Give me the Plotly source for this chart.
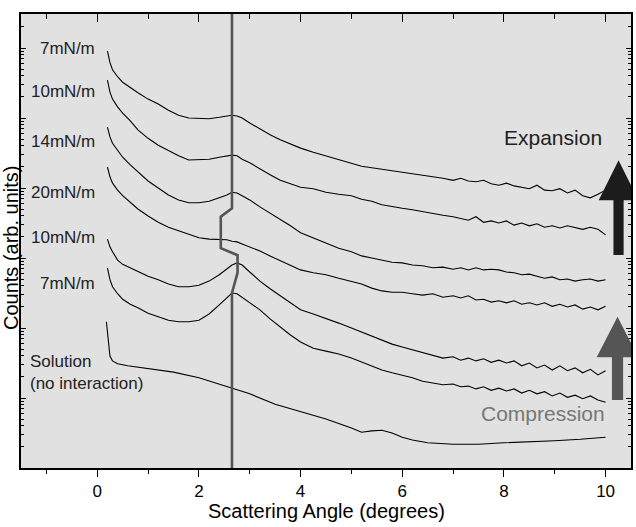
import numpy as np
import plotly.graph_objects as go

# Scattering angle grid (degrees) shared by the six monolayer curves
angle = [0.20, 0.25, 0.30, 0.40, 0.50, 0.65, 0.80, 1.00, 1.20, 1.40,
         1.60, 1.80, 2.00, 2.20, 2.40, 2.55, 2.65, 2.75, 2.85, 3.00,
         3.20, 3.40, 3.60, 3.80, 4.00, 4.25, 4.50, 4.75, 5.00, 5.20,
         5.40, 5.60, 5.80, 6.00, 6.20, 6.40, 6.60, 6.80, 7.00, 7.15,
         7.30, 7.45, 7.60, 7.75, 7.90, 8.05, 8.20, 8.35, 8.50, 8.65,
         8.80, 8.95, 9.10, 9.25, 9.40, 9.55, 9.70, 9.85, 10.00]

# log10(counts), offset curves (arb. units)
log_counts_7_expansion = [5.96, 5.79, 5.69, 5.59, 5.51, 5.43, 5.36, 5.27, 5.20, 5.11,
                          5.04, 5.00, 4.99, 4.99, 5.01, 5.03, 5.04, 5.03, 5.00, 4.93,
                          4.84, 4.76, 4.69, 4.63, 4.57, 4.51, 4.46, 4.40, 4.36, 4.31,
                          4.29, 4.27, 4.24, 4.23, 4.21, 4.19, 4.16, 4.14, 4.11, 4.14,
                          4.10, 4.09, 4.11, 4.06, 4.04, 4.07, 4.03, 4.01, 3.99, 4.04,
                          3.97, 3.96, 3.99, 3.93, 3.97, 3.89, 3.86, 3.91, 3.97]
log_counts_10_expansion = [5.54, 5.37, 5.27, 5.16, 5.07, 4.96, 4.83, 4.71, 4.61, 4.53,
                           4.46, 4.40, 4.40, 4.41, 4.44, 4.46, 4.47, 4.46, 4.41, 4.36,
                           4.27, 4.19, 4.11, 4.06, 4.01, 3.99, 3.94, 3.91, 3.89, 3.84,
                           3.81, 3.76, 3.73, 3.71, 3.69, 3.66, 3.63, 3.61, 3.59, 3.57,
                           3.54, 3.59, 3.51, 3.53, 3.50, 3.53, 3.47, 3.50, 3.46, 3.49,
                           3.44, 3.46, 3.43, 3.46, 3.43, 3.41, 3.44, 3.41, 3.33]
log_counts_14 = [4.87, 4.73, 4.64, 4.54, 4.44, 4.33, 4.23, 4.10, 4.00, 3.90,
                 3.83, 3.79, 3.79, 3.81, 3.86, 3.90, 3.94, 3.93, 3.89, 3.83,
                 3.73, 3.64, 3.56, 3.46, 3.36, 3.29, 3.21, 3.14, 3.09, 3.03,
                 3.00, 2.97, 2.94, 2.93, 2.90, 2.89, 2.86, 2.87, 2.84, 2.86,
                 2.83, 2.86, 2.83, 2.84, 2.83, 2.80, 2.79, 2.76, 2.77, 2.74,
                 2.71, 2.73, 2.69, 2.70, 2.67, 2.69, 2.70, 2.67, 2.69]
log_counts_20 = [4.30, 4.16, 4.07, 3.97, 3.89, 3.79, 3.70, 3.60, 3.51, 3.44,
                 3.39, 3.33, 3.29, 3.27, 3.26, 3.26, 3.24, 3.23, 3.20, 3.16,
                 3.10, 3.03, 2.96, 2.89, 2.83, 2.79, 2.76, 2.71, 2.67, 2.63,
                 2.57, 2.53, 2.51, 2.51, 2.49, 2.47, 2.49, 2.44, 2.46, 2.43,
                 2.46, 2.40, 2.41, 2.37, 2.39, 2.36, 2.39, 2.34, 2.36, 2.33,
                 2.36, 2.31, 2.34, 2.30, 2.33, 2.27, 2.30, 2.26, 2.31]
log_counts_10_compression = [3.27, 3.16, 3.09, 2.97, 2.91, 2.86, 2.80, 2.74, 2.69, 2.63,
                             2.59, 2.59, 2.61, 2.67, 2.76, 2.84, 2.90, 2.93, 2.90, 2.80,
                             2.67, 2.56, 2.46, 2.36, 2.26, 2.20, 2.14, 2.07, 2.00, 1.94,
                             1.89, 1.83, 1.77, 1.73, 1.69, 1.64, 1.60, 1.57, 1.59, 1.54,
                             1.57, 1.53, 1.56, 1.51, 1.54, 1.50, 1.53, 1.46, 1.50, 1.43,
                             1.47, 1.40, 1.46, 1.39, 1.43, 1.36, 1.41, 1.33, 1.39]
log_counts_7_compression = [2.86, 2.69, 2.59, 2.49, 2.41, 2.34, 2.29, 2.21, 2.16, 2.11,
                            2.09, 2.09, 2.11, 2.20, 2.33, 2.43, 2.50, 2.49, 2.44, 2.37,
                            2.26, 2.13, 2.01, 1.90, 1.80, 1.71, 1.67, 1.63, 1.57, 1.51,
                            1.46, 1.40, 1.36, 1.33, 1.29, 1.24, 1.21, 1.19, 1.20, 1.16,
                            1.17, 1.13, 1.16, 1.11, 1.14, 1.10, 1.13, 1.07, 1.11, 1.06,
                            1.09, 1.03, 1.07, 1.01, 1.04, 0.99, 1.03, 0.97, 0.94]

solution_angle = [0.18, 0.20, 0.22, 0.25, 0.30, 0.40, 0.60, 0.80, 1.00, 1.50,
                  2.00, 2.50, 3.00, 3.50, 4.00, 4.50, 5.00, 5.20, 5.40, 5.60,
                  5.80, 6.00, 6.20, 6.50, 7.00, 7.50, 8.00, 8.50, 9.00, 9.50, 10.00]
log_counts_solution = [2.09, 1.97, 1.83, 1.60, 1.53, 1.49, 1.46, 1.44, 1.43, 1.37,
                       1.29, 1.17, 1.06, 0.91, 0.80, 0.70, 0.57, 0.51, 0.53, 0.54,
                       0.50, 0.44, 0.40, 0.36, 0.34, 0.34, 0.36, 0.37, 0.39, 0.41, 0.44]

# Peak-position guide line
peak_angle = [2.65, 2.65, 2.43, 2.43, 2.76, 2.76, 2.65, 2.65]
peak_log_counts = [6.8, 3.71, 3.59, 3.14, 3.04, 2.79, 2.50, -0.3]

curve_labels = ["7mN/m", "10mN/m", "14mN/m", "20mN/m", "10mN/m", "7mN/m"]
label_paper_y = [0.925, 0.830, 0.720, 0.606, 0.507, 0.407]

FONT = "Arial, Liberation Sans, sans-serif"

fig = go.Figure()
for series in [log_counts_7_expansion, log_counts_10_expansion, log_counts_14,
               log_counts_20, log_counts_10_compression, log_counts_7_compression]:
    fig.add_trace(go.Scatter(x=angle, y=10 ** np.array(series), mode="lines",
                             line=dict(color="black", width=1.1),
                             showlegend=False, hoverinfo="skip"))
fig.add_trace(go.Scatter(x=solution_angle, y=10 ** np.array(log_counts_solution),
                         mode="lines", line=dict(color="black", width=1.1),
                         showlegend=False, hoverinfo="skip"))
fig.add_trace(go.Scatter(x=peak_angle, y=10 ** np.array(peak_log_counts), mode="lines",
                         line=dict(color="#555555", width=2.6),
                         xaxis="x2", showlegend=False, hoverinfo="skip"))

annotations = []
for txt, yy in zip(curve_labels, label_paper_y):
    annotations.append(dict(text=txt, x=0.0, xref="x", y=yy, yref="paper",
                            xanchor="right", yanchor="middle", showarrow=False,
                            font=dict(size=17, color="#222222", family=FONT)))
annotations += [
    dict(text="Solution<br>(no interaction)", x=-1.36, xref="x", y=0.211, yref="paper",
         xanchor="left", yanchor="middle", align="left", showarrow=False,
         font=dict(size=17, color="#222222", family=FONT)),
    dict(text="Expansion", x=8.96, xref="x", y=0.729, yref="paper",
         xanchor="center", yanchor="middle", showarrow=False,
         font=dict(size=21, color="#222222", family=FONT)),
    dict(text="Compression", x=8.76, xref="x", y=0.119, yref="paper",
         xanchor="center", yanchor="middle", showarrow=False,
         font=dict(size=21, color="#777777", family=FONT)),
    dict(text="Counts (arb. units)", x=-0.016, xref="paper", y=0.485, yref="paper",
         textangle=-90, xanchor="center", yanchor="middle", showarrow=False,
         font=dict(size=20, color="black", family=FONT)),
    dict(text="Scattering Angle (degrees)", x=0.5, xref="paper", y=-0.095, yref="paper",
         xanchor="center", yanchor="middle", showarrow=False,
         font=dict(size=20, color="black", family=FONT)),
]

def arrow_path(xc, y_bottom, y_base, y_tip, shaft_hw, head_hw):
    return (f"M {xc - shaft_hw},{y_bottom} L {xc - shaft_hw},{y_base} "
            f"L {xc - head_hw},{y_base} L {xc},{y_tip} L {xc + head_hw},{y_base} "
            f"L {xc + shaft_hw},{y_base} L {xc + shaft_hw},{y_bottom} Z")

shapes = [
    dict(type="path", xref="x", yref="paper",
         path=arrow_path(10.255, 0.469, 0.590, 0.678, 0.10, 0.39),
         fillcolor="#1c1c1c", line=dict(width=0)),
    dict(type="path", xref="x", yref="paper",
         path=arrow_path(10.235, 0.150, 0.244, 0.333, 0.11, 0.41),
         fillcolor="#555555", line=dict(width=0)),
]

fig.update_layout(
    width=636, height=527,
    margin=dict(l=21, r=3, t=14, b=59),
    paper_bgcolor="white", plot_bgcolor="#e1e1e1",
    font=dict(family=FONT, color="black"),
    xaxis=dict(range=[-1.5, 10.5], tickvals=[0, 2, 4, 6, 8, 10],
               ticks="outside", ticklen=7, tickwidth=1.3, tickcolor="black",
               minor=dict(tickvals=[-1, 1, 3, 5, 7, 9], ticks="outside", ticklen=4,
                          tickwidth=1.3, tickcolor="black", showgrid=False),
               showline=True, linecolor="black", linewidth=1.5, mirror=True,
               showgrid=False, zeroline=False, tickfont=dict(size=17)),
    xaxis2=dict(range=[-1.5, 10.5], overlaying="x", side="top",
                tickvals=[0, 2, 4, 6, 8, 10], ticks="inside", ticklen=8,
                tickwidth=1.3, tickcolor="black",
                minor=dict(tickvals=[-1, 1, 3, 5, 7, 9], ticks="inside", ticklen=5,
                           tickwidth=1.3, tickcolor="black", showgrid=False),
                showticklabels=False, showline=False, showgrid=False, zeroline=False),
    yaxis=dict(type="log", range=[0, 6.486], showticklabels=False,
               dtick=1, ticks="inside", ticklen=5, tickwidth=1, tickcolor="black",
               minor=dict(dtick="D1", ticks="inside", ticklen=3, tickwidth=1,
                          tickcolor="black", showgrid=False),
               showline=True, linecolor="black", linewidth=1.5, mirror="ticks",
               showgrid=False, zeroline=False),
    annotations=annotations,
    shapes=shapes,
)

# Remove the browser's default 8px body margin so the figure fills the window.
fig.write_html("out.html", config={"displayModeBar": False},
               post_script="document.body.style.margin='0px';")
